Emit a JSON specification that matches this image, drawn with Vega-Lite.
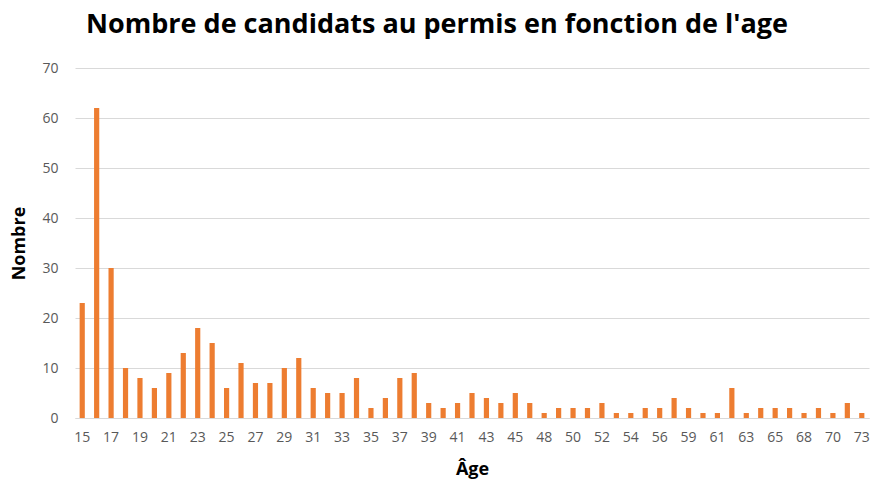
{
  "$schema": "https://vega.github.io/schema/vega-lite/v6.json",
  "width": 794,
  "height": 350,
  "autosize": {"type": "none"},
  "padding": {"left": 75, "top": 68, "right": 6, "bottom": 66},
  "background": "white",
  "title": {
    "text": "Nombre de candidats au permis en fonction de l'age",
    "font": "Open Sans",
    "fontSize": 27,
    "fontWeight": "bold",
    "color": "#000000",
    "anchor": "middle",
    "dx": -35,
    "offset": 22
  },
  "data": {
    "values": [
      {"age": 15, "nombre": 23}, {"age": 16, "nombre": 62}, {"age": 17, "nombre": 30},
      {"age": 18, "nombre": 10}, {"age": 19, "nombre": 8}, {"age": 20, "nombre": 6},
      {"age": 21, "nombre": 9}, {"age": 22, "nombre": 13}, {"age": 23, "nombre": 18},
      {"age": 24, "nombre": 15}, {"age": 25, "nombre": 6}, {"age": 26, "nombre": 11},
      {"age": 27, "nombre": 7}, {"age": 28, "nombre": 7}, {"age": 29, "nombre": 10},
      {"age": 30, "nombre": 12}, {"age": 31, "nombre": 6}, {"age": 32, "nombre": 5},
      {"age": 33, "nombre": 5}, {"age": 34, "nombre": 8}, {"age": 35, "nombre": 2},
      {"age": 36, "nombre": 4}, {"age": 37, "nombre": 8}, {"age": 38, "nombre": 9},
      {"age": 39, "nombre": 3}, {"age": 40, "nombre": 2}, {"age": 41, "nombre": 3},
      {"age": 42, "nombre": 5}, {"age": 43, "nombre": 4}, {"age": 44, "nombre": 3},
      {"age": 45, "nombre": 5}, {"age": 46, "nombre": 3}, {"age": 48, "nombre": 1},
      {"age": 49, "nombre": 2}, {"age": 50, "nombre": 2}, {"age": 51, "nombre": 2},
      {"age": 52, "nombre": 3}, {"age": 53, "nombre": 1}, {"age": 54, "nombre": 1},
      {"age": 55, "nombre": 2}, {"age": 56, "nombre": 2}, {"age": 57, "nombre": 4},
      {"age": 59, "nombre": 2}, {"age": 60, "nombre": 1}, {"age": 61, "nombre": 1},
      {"age": 62, "nombre": 6}, {"age": 63, "nombre": 1}, {"age": 64, "nombre": 2},
      {"age": 65, "nombre": 2}, {"age": 66, "nombre": 2}, {"age": 68, "nombre": 1},
      {"age": 69, "nombre": 2}, {"age": 70, "nombre": 1}, {"age": 71, "nombre": 3},
      {"age": 73, "nombre": 1}
    ]
  },
  "mark": {"type": "bar", "color": "#ED7D31"},
  "encoding": {
    "x": {
      "field": "age",
      "type": "ordinal",
      "sort": "ascending",
      "scale": {"paddingInner": 0.64, "paddingOuter": 0.32},
      "axis": {
        "title": "Âge",
        "values": [15, 17, 19, 21, 23, 25, 27, 29, 31, 33, 35, 37, 39, 41, 43, 45, 48, 50, 52, 54, 56, 59, 61, 63, 65, 68, 70, 73],
        "labelAngle": 0,
        "labelFont": "Open Sans",
        "labelFontSize": 14,
        "labelColor": "#595959",
        "labelPadding": 12,
        "ticks": false,
        "domainColor": "#d9d9d9",
        "titleFont": "Open Sans",
        "titleFontSize": 18,
        "titleFontWeight": "bold",
        "titleColor": "#000000",
        "titlePadding": 16
      }
    },
    "y": {
      "field": "nombre",
      "type": "quantitative",
      "scale": {"domain": [0, 70]},
      "axis": {
        "title": "Nombre",
        "values": [0, 10, 20, 30, 40, 50, 60, 70],
        "labelFont": "Open Sans",
        "labelFontSize": 14,
        "labelColor": "#595959",
        "labelPadding": 17,
        "ticks": false,
        "domain": false,
        "gridColor": "#d9d9d9",
        "titleFont": "Open Sans",
        "titleFontSize": 18,
        "titleFontWeight": "bold",
        "titleColor": "#000000",
        "titlePadding": 13
      }
    }
  },
  "config": {"view": {"stroke": null}}
}
